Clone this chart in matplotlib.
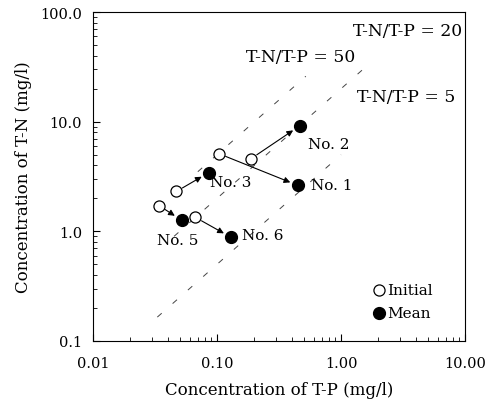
import matplotlib
matplotlib.use("Agg")
import matplotlib.pyplot as plt
import numpy as np

# ------------ DATA -------------
site_labels = ["No. 1", "No. 2", "No. 3", "No. 5", "No. 6"]
tp_initial = [0.104, 0.188, 0.047, 0.034, 0.067]
tn_initial = [5.1, 4.6, 2.31, 1.72, 1.34]
tp_mean = [0.45, 0.467, 0.086, 0.052, 0.13]
tn_mean = [2.62, 9.2, 3.44, 1.26, 0.88]

ratios = [50, 20, 5]
ratio_x_start = [0.07, 0.045, 0.033]
ratio_x_end = [0.52, 1.7, 1.0]
ratio_labels = ["T-N/T-P = 50", "T-N/T-P = 20", "T-N/T-P = 5"]

x_ticks = [0.01, 0.1, 1, 10]
x_ticklabels = ["0.01", "0.10", "1.00", "10.00"]
y_ticks = [0.1, 1, 10, 100]
y_ticklabels = ["0.1", "1.0", "10.0", "100.0"]
# -------------------------------

plt.rcParams["font.family"] = ["DejaVu Serif"]

fig = plt.figure(figsize=(4.88, 4.10), dpi=100)
ax = fig.add_axes([0.1906, 0.166, 0.7624, 0.802])
ax.set_xscale("log")
ax.set_yscale("log")
ax.set_xlim(0.01, 10)
ax.set_ylim(0.1, 100)

# ratio guide lines (sparse dashes)
for r, x0, x1 in zip(ratios, ratio_x_start, ratio_x_end):
    xs = np.array([x0, x1])
    ax.plot(xs, r * xs, color="#444444", lw=0.7, dashes=(6, 15))

# arrows from initial to mean
for xi, yi, xm, ym in zip(tp_initial, tn_initial, tp_mean, tn_mean):
    ax.annotate("", xy=(xm, ym), xytext=(xi, yi),
                arrowprops=dict(arrowstyle="-|>", color="black", lw=0.8,
                                mutation_scale=9, shrinkA=5, shrinkB=6))

ax.plot(tp_initial, tn_initial, "o", ms=8, mfc="white", mec="black", mew=0.9)
ax.plot(tp_mean, tn_mean, "o", ms=8.5, mfc="black", mec="black")

# site labels
label_offsets = [(9, 0), (6, -13), (1, -7), (-18, -14), (8, 2)]
for lab, xm, ym, off in zip(site_labels, tp_mean, tn_mean, label_offsets):
    ax.annotate(lab, xy=(xm, ym), xytext=off, textcoords="offset points",
                fontsize=11, va="center", ha="left")

# ratio labels
ax.text(0.41, 0.866, ratio_labels[0], transform=ax.transAxes, fontsize=12.3, va="center")
ax.text(0.70, 0.945, ratio_labels[1], transform=ax.transAxes, fontsize=12.3, va="center")
ax.text(0.71, 0.742, ratio_labels[2], transform=ax.transAxes, fontsize=12.3, va="center")

# legend
ax.plot([0.77], [0.154], "o", transform=ax.transAxes, ms=8, mfc="white", mec="black", mew=0.9)
ax.text(0.79, 0.154, "Initial", transform=ax.transAxes, fontsize=11, va="center")
ax.plot([0.77], [0.084], "o", transform=ax.transAxes, ms=8.5, mfc="black", mec="black")
ax.text(0.79, 0.084, "Mean", transform=ax.transAxes, fontsize=11, va="center")

ax.set_xticks(x_ticks)
ax.set_xticklabels(x_ticklabels)
ax.set_yticks(y_ticks)
ax.set_yticklabels(y_ticklabels)
ax.tick_params(which="both", direction="in", labelsize=10.5)
ax.tick_params(which="major", length=5)
ax.tick_params(axis="x", which="major", pad=11)
ax.tick_params(axis="y", which="major", pad=8)
ax.tick_params(which="minor", length=3)
ax.set_xlabel("Concentration of T-P (mg/l)", fontsize=12, labelpad=8)
ax.set_ylabel("Concentration of T-N (mg/l)", fontsize=12, labelpad=6)

fig.savefig("out.png", dpi=100)
